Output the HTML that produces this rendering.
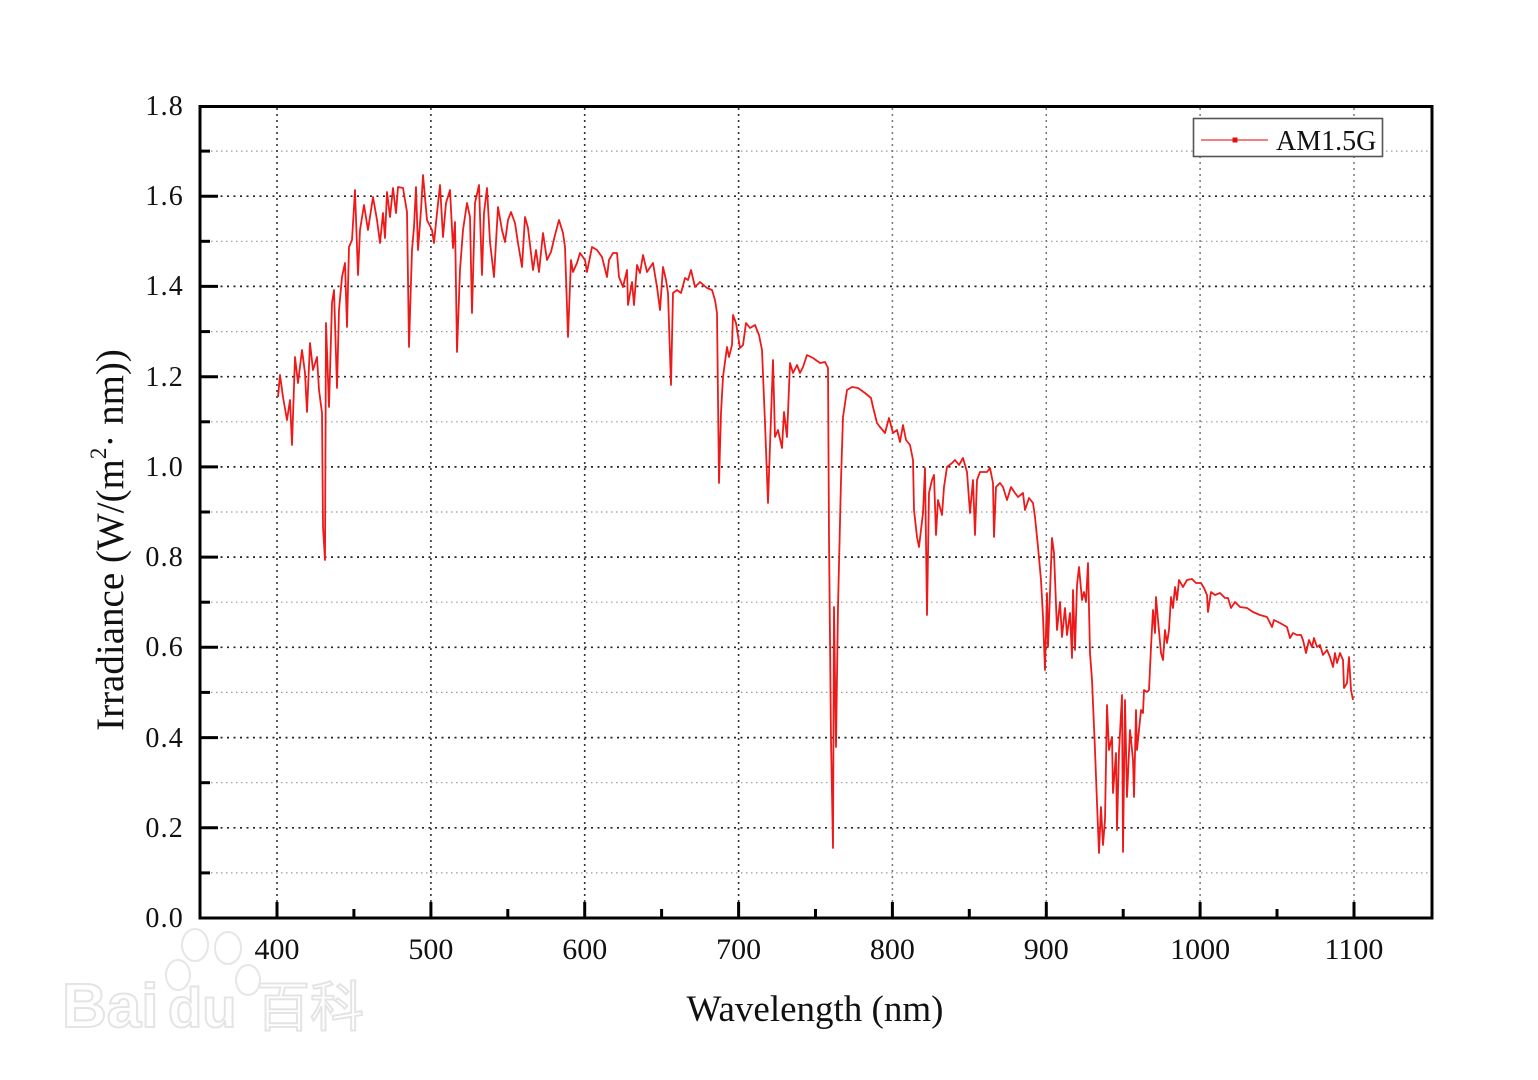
<!DOCTYPE html>
<html>
<head>
<meta charset="utf-8">
<style>
  html,body{margin:0;padding:0;background:#fff;}
  svg{display:block;}
  .t{font-family:"Liberation Serif","Noto Serif CJK SC",serif;fill:#111;}
  .wm{font-family:"Liberation Sans","Noto Sans CJK SC",sans-serif;fill:#fff;stroke:#e4e4e4;stroke-width:2;}
</style>
</head>
<body>
<svg width="1538" height="1080" viewBox="0 0 1538 1080" xmlns="http://www.w3.org/2000/svg">
  <rect x="0" y="0" width="1538" height="1080" fill="#fff"/>

  <!-- Baidu watermark (faint) -->
  <g>
    <g style="fill:#fff;stroke:#e6e6e6;stroke-width:2">
      <ellipse cx="195" cy="945" rx="13" ry="16"/>
      <ellipse cx="228" cy="948" rx="13" ry="16"/>
      <ellipse cx="178" cy="975" rx="12" ry="15"/>
      <ellipse cx="248" cy="980" rx="12" ry="15"/>
    </g>
    <text class="wm" x="62" y="1027" style="font-size:62px;font-weight:bold">Bai</text>
    <text class="wm" x="168" y="1027" style="font-size:56px;font-weight:bold">du</text>
    <text class="wm" x="256" y="1026" style="font-size:54px">百科</text>
  </g>

  <!-- minor horizontal grid -->
  <g stroke="#9a9a9a" stroke-width="1.2" stroke-dasharray="1.5,3.5">
    <line x1="201" y1="872.9" x2="1431" y2="872.9"/>
    <line x1="201" y1="782.7" x2="1431" y2="782.7"/>
    <line x1="201" y1="692.4" x2="1431" y2="692.4"/>
    <line x1="201" y1="602.2" x2="1431" y2="602.2"/>
    <line x1="201" y1="512.0" x2="1431" y2="512.0"/>
    <line x1="201" y1="421.8" x2="1431" y2="421.8"/>
    <line x1="201" y1="331.6" x2="1431" y2="331.6"/>
    <line x1="201" y1="241.3" x2="1431" y2="241.3"/>
    <line x1="201" y1="151.1" x2="1431" y2="151.1"/>
  </g>
  <!-- major horizontal grid -->
  <g stroke="#222" stroke-width="1.7" stroke-dasharray="2,4.5">
    <line x1="201" y1="827.8" x2="1431" y2="827.8"/>
    <line x1="201" y1="737.6" x2="1431" y2="737.6"/>
    <line x1="201" y1="647.3" x2="1431" y2="647.3"/>
    <line x1="201" y1="557.1" x2="1431" y2="557.1"/>
    <line x1="201" y1="466.9" x2="1431" y2="466.9"/>
    <line x1="201" y1="376.7" x2="1431" y2="376.7"/>
    <line x1="201" y1="286.4" x2="1431" y2="286.4"/>
    <line x1="201" y1="196.2" x2="1431" y2="196.2"/>
  </g>
  <!-- vertical grid -->
  <g stroke="#333" stroke-width="1.6" stroke-dasharray="2,4">
    <line x1="277" y1="108" x2="277" y2="917"/>
    <line x1="430.9" y1="108" x2="430.9" y2="917"/>
    <line x1="584.7" y1="108" x2="584.7" y2="917"/>
    <line x1="738.6" y1="108" x2="738.6" y2="917"/>
  </g>
  <g stroke="#777" stroke-width="1.5" stroke-dasharray="2,4">
    <line x1="892.4" y1="108" x2="892.4" y2="917"/>
    <line x1="1046.3" y1="108" x2="1046.3" y2="917"/>
    <line x1="1200.1" y1="108" x2="1200.1" y2="917"/>
    <line x1="1354" y1="108" x2="1354" y2="917"/>
  </g>

  <!-- spectrum -->
  <path fill="none" stroke="#ee1a1a" stroke-width="1.8" stroke-linejoin="round" d="M278,397 L280,375 283,397 287,420 290,400 292,445 295,357 298,383 302,350 305,373 307,412 310,343 313,370 317,357 319,390 322,413 323,527 325,560 326,323 329,407 332,303 334,290 337,388 339,310 342,277 345,263 347,327 349,247 352,240 355,190 358,275 360,230 364,205 368,230 373,197 377,220 380,243 383,213 385,238 387,192 390,217 393,188 396,213 398,187 403,188 407,212 409,347 412,250 414,227 416,187 418,250 421,210 423,175 427,220 432,230 434,243 437,213 440,185 443,237 446,203 450,190 453,248 455,222 457,352 460,270 463,230 467,203 470,217 472,313 475,203 479,185 482,275 484,213 487,188 490,242 494,277 498,207 502,230 505,242 508,220 511,212 515,223 518,243 522,267 525,217 528,228 533,270 536,250 539,272 543,233 547,260 551,252 555,235 559,220 563,233 565,247 568,337 571,260 573,272 577,263 580,253 585,260 587,272 592,247 597,250 602,257 607,277 609,260 613,253 617,253 619,277 623,287 627,270 628,305 632,282 634,305 637,265 640,273 643,255 647,272 653,263 657,287 660,310 663,267 666,280 668,293 671,385 673,293 677,290 681,293 685,278 688,280 691,270 695,287 700,282 707,288 712,290 715,300 717,313 719,483 721,413 723,377 727,347 729,357 732,345 733,315 736,323 740,348 743,345 746,323 750,328 755,325 759,335 762,350 765,423 768,503 773,360 775,437 778,430 782,448 784,412 787,437 790,363 793,373 797,365 800,373 803,367 807,355 813,358 820,363 825,362 828,368 829,537 831,740 833,848 834,607 836,747 838,607 841,480 843,417 847,390 852,387 858,388 865,393 871,398 873,407 877,423 880,427 885,433 889,418 893,433 897,430 900,442 903,425 906,440 910,445 913,460 914,510 917,537 919,547 923,513 925,468 927,615 929,493 932,480 934,475 936,535 938,500 942,515 944,487 947,467 952,463 955,460 959,465 963,458 967,472 970,513 973,480 975,535 977,480 980,472 987,472 990,468 993,483 994,537 996,487 1000,483 1003,487 1007,500 1011,487 1015,493 1018,497 1023,493 1025,510 1029,498 1033,503 1035,517 1038,547 1041,580 1043,617 1045,670 1047,593 1048,647 1052,538 1054,553 1057,630 1060,602 1062,637 1065,608 1067,635 1070,613 1072,658 1073,590 1075,650 1077,585 1079,567 1082,600 1084,592 1086,602 1088,563 1090,653 1092,680 1095,750 1097,803 1099,853 1101,807 1103,845 1105,820 1107,705 1109,750 1112,737 1113,793 1116,753 1117,830 1119,752 1122,695 1123,852 1125,700 1127,797 1130,730 1133,760 1134,797 1136,710 1137,750 1141,710 1143,713 1144,690 1147,692 1149,690 1151,647 1153,610 1155,633 1156,597 1158,620 1161,653 1163,660 1165,630 1167,643 1169,630 1171,597 1173,608 1175,587 1177,600 1179,580 1183,587 1187,580 1192,579 1196,583 1201,583 1204,588 1207,595 1208,612 1211,592 1215,595 1220,593 1225,598 1228,598 1231,608 1235,602 1240,607 1247,608 1253,612 1260,615 1267,617 1272,627 1274,620 1280,623 1287,627 1290,638 1293,633 1297,635 1301,635 1303,640 1306,653 1309,640 1312,647 1314,638 1317,647 1320,645 1323,655 1327,650 1330,657 1333,667 1335,653 1337,663 1340,653 1343,660 1344,688 1347,683 1349,657 1351,690 1353,700"/>

  <!-- axes frame -->
  <rect x="200" y="106.5" width="1232" height="811.5" fill="none" stroke="#000" stroke-width="3"/>

  <!-- y ticks -->
  <g stroke="#000" stroke-width="3">
    <line x1="200" y1="827.8" x2="218" y2="827.8"/>
    <line x1="200" y1="737.6" x2="218" y2="737.6"/>
    <line x1="200" y1="647.3" x2="218" y2="647.3"/>
    <line x1="200" y1="557.1" x2="218" y2="557.1"/>
    <line x1="200" y1="466.9" x2="218" y2="466.9"/>
    <line x1="200" y1="376.7" x2="218" y2="376.7"/>
    <line x1="200" y1="286.4" x2="218" y2="286.4"/>
    <line x1="200" y1="196.2" x2="218" y2="196.2"/>
    <line x1="200" y1="872.9" x2="210" y2="872.9"/>
    <line x1="200" y1="782.7" x2="210" y2="782.7"/>
    <line x1="200" y1="692.4" x2="210" y2="692.4"/>
    <line x1="200" y1="602.2" x2="210" y2="602.2"/>
    <line x1="200" y1="512.0" x2="210" y2="512.0"/>
    <line x1="200" y1="421.8" x2="210" y2="421.8"/>
    <line x1="200" y1="331.6" x2="210" y2="331.6"/>
    <line x1="200" y1="241.3" x2="210" y2="241.3"/>
    <line x1="200" y1="151.1" x2="210" y2="151.1"/>
  </g>
  <!-- x ticks -->
  <g stroke="#000" stroke-width="3">
    <line x1="277" y1="918" x2="277" y2="902"/>
    <line x1="430.9" y1="918" x2="430.9" y2="902"/>
    <line x1="584.7" y1="918" x2="584.7" y2="902"/>
    <line x1="738.6" y1="918" x2="738.6" y2="902"/>
    <line x1="892.4" y1="918" x2="892.4" y2="902"/>
    <line x1="1046.3" y1="918" x2="1046.3" y2="902"/>
    <line x1="1200.1" y1="918" x2="1200.1" y2="902"/>
    <line x1="1354" y1="918" x2="1354" y2="902"/>
    <line x1="353.9" y1="918" x2="353.9" y2="909"/>
    <line x1="507.8" y1="918" x2="507.8" y2="909"/>
    <line x1="661.6" y1="918" x2="661.6" y2="909"/>
    <line x1="815.5" y1="918" x2="815.5" y2="909"/>
    <line x1="969.3" y1="918" x2="969.3" y2="909"/>
    <line x1="1123.2" y1="918" x2="1123.2" y2="909"/>
    <line x1="1277" y1="918" x2="1277" y2="909"/>
  </g>

  <!-- y tick labels -->
  <g class="t" font-size="28" text-anchor="end" letter-spacing="1.2">
    <text class="t" x="184" y="927">0.0</text>
    <text class="t" x="184" y="837">0.2</text>
    <text class="t" x="184" y="747">0.4</text>
    <text class="t" x="184" y="656">0.6</text>
    <text class="t" x="184" y="566">0.8</text>
    <text class="t" x="184" y="476">1.0</text>
    <text class="t" x="184" y="386">1.2</text>
    <text class="t" x="184" y="295">1.4</text>
    <text class="t" x="184" y="205">1.6</text>
    <text class="t" x="184" y="115">1.8</text>
  </g>
  <!-- x tick labels -->
  <g font-size="30" text-anchor="middle">
    <text class="t" x="277" y="959">400</text>
    <text class="t" x="430.9" y="959">500</text>
    <text class="t" x="584.7" y="959">600</text>
    <text class="t" x="738.6" y="959">700</text>
    <text class="t" x="892.4" y="959">800</text>
    <text class="t" x="1046.3" y="959">900</text>
    <text class="t" x="1200.1" y="959">1000</text>
    <text class="t" x="1354" y="959">1100</text>
  </g>

  <!-- axis titles -->
  <text class="t" x="815" y="1021" font-size="37" text-anchor="middle">Wavelength (nm)</text>
  <text class="t" transform="translate(123,540) rotate(-90)" font-size="39" text-anchor="middle">Irradiance (W/(m<tspan font-size="23" dy="-17">2</tspan><tspan dy="17">·  nm))</tspan></text>

  <!-- legend -->
  <rect x="1193.5" y="118.5" width="189" height="38" fill="#fff" stroke="#555" stroke-width="1.6"/>
  <line x1="1201" y1="140" x2="1268" y2="140" stroke="#f03030" stroke-width="1.2"/>
  <rect x="1232.5" y="137.5" width="5" height="5" fill="#e01010"/>
  <text class="t" x="1276" y="150" font-size="28">AM1.5G</text>
</svg>
</body>
</html>
